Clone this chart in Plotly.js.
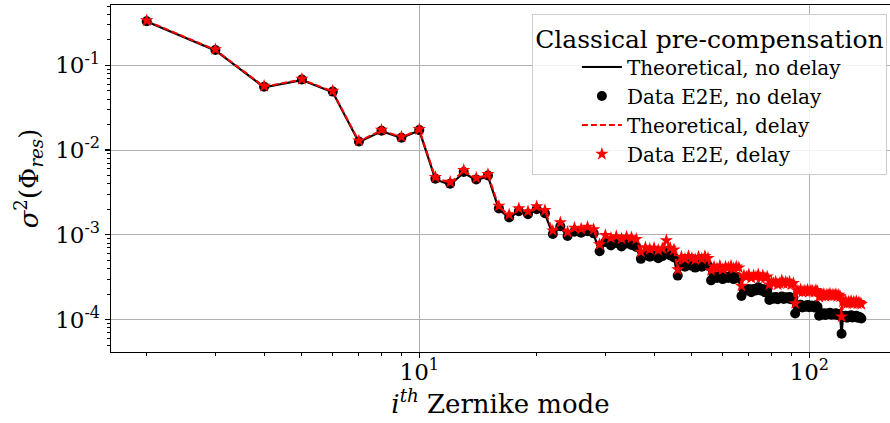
<!DOCTYPE html>
<html>
<head>
<meta charset="utf-8">
<script src="https://cdn.plot.ly/plotly-3.0.1.min.js"></script>
<style>html,body{margin:0;padding:0;background:#fff;}#chart{width:890px;height:423px;}</style>
</head>
<body>
<div id="chart"></div>
<script>
// Zernike mode indices
const modes = [2,3,4,5,6,7,8,9,10,11,12,13,14,15,16,17,18,19,20,21,22,23,24,25,26,27,28,29,30,
31,32,33,34,35,36,37,38,39,40,41,42,43,44,45,46,47,48,49,50,51,52,53,54,55,56,57,58,59,60,
61,62,63,64,65,66,67,68,69,70,71,72,73,74,75,76,77,78,79,80,81,82,83,84,85,86,87,88,89,90,
91,92,93,94,95,96,97,98,99,100,101,102,103,104,105,106,107,108,109,110,111,112,113,114,115,116,117,118,119,120,
121,122,123,124,125,126,127,128,129,130,131,132,133,134,135,136];

// Theoretical, no delay
const theoNoDelay = [0.330,0.150,
0.055,0.067,0.048,
0.0124,0.0167,0.0139,0.0170,
0.0045,0.0039,0.0054,0.0044,0.0049,
0.0020,0.00158,0.00188,0.00172,0.00198,0.00178,
0.00100,0.00124,0.00095,0.00107,0.00104,0.00109,0.00102,
0.00062,0.00080,0.00074,0.00078,0.00072,0.00077,0.00075,0.00071,
0.00051,0.00057,0.00054,0.00056,0.00052,0.00055,0.00060,0.00056,0.00053,
0.00032,0.00043,0.00041,0.00044,0.00042,0.00040,0.00043,0.00041,0.00044,0.00042,
0.00028,0.00031,0.00030,0.00032,0.00029,0.00031,0.00030,0.00032,0.00029,0.00031,0.00030,
0.00018,0.00022,0.00021,0.00022,0.00020,0.00022,0.00021,0.00023,0.00021,0.00022,0.00020,0.00021,
0.000165,0.000178,0.000172,0.000180,0.000170,0.000176,0.000182,0.000171,0.000178,0.000173,0.000180,0.000169,0.000175,
0.000115,0.000142,0.000138,0.000145,0.000136,0.000141,0.000139,0.000144,0.000137,0.000142,0.000140,0.000136,0.000143,0.000138,
0.000108,0.000114,0.000112,0.000116,0.000110,0.000115,0.000113,0.000117,0.000111,0.000114,0.000112,0.000116,0.000110,0.000113,0.000109,
0.000066,0.000106,0.000104,0.000108,0.000102,0.000107,0.000105,0.000109,0.000103,0.000106,0.000104,0.000108,0.000102,0.000105,0.000103,0.000100];

// Data E2E, no delay
const dataNoDelay = [0.332,0.152,
0.056,0.068,0.049,
0.0126,0.0169,0.0140,0.0172,
0.0046,0.0040,0.0055,0.0045,0.0050,
0.00205,0.00160,0.00190,0.00175,0.00200,0.00180,
0.00102,0.00126,0.00097,0.00109,0.00106,0.00110,0.00104,
0.00064,0.00082,0.00075,0.00080,0.00073,0.00079,0.00076,0.00072,
0.00052,0.00058,0.00055,0.00057,0.00053,0.00056,0.00061,0.00057,0.00054,
0.00033,0.00044,0.00042,0.00045,0.00043,0.00041,0.00044,0.00042,0.00045,0.00043,
0.00029,0.00032,0.00031,0.00033,0.00030,0.00032,0.00031,0.00033,0.00030,0.00032,0.00031,
0.00019,0.00023,0.00022,0.00023,0.00021,0.00023,0.00022,0.00024,0.00022,0.00023,0.00021,0.00022,
0.000170,0.000183,0.000176,0.000185,0.000174,0.000181,0.000187,0.000175,0.000183,0.000177,0.000185,0.000173,0.000180,
0.000118,0.000146,0.000141,0.000149,0.000139,0.000145,0.000142,0.000148,0.000140,0.000146,0.000143,0.000139,0.000147,0.000141,
0.000111,0.000117,0.000115,0.000119,0.000113,0.000118,0.000116,0.000120,0.000114,0.000117,0.000115,0.000119,0.000113,0.000116,0.000112,
0.000068,0.000109,0.000107,0.000111,0.000105,0.000110,0.000108,0.000112,0.000106,0.000109,0.000107,0.000111,0.000105,0.000108,0.000106,0.000103];

// Theoretical, delay
const theoDelay = [0.335,0.152,
0.056,0.068,0.049,
0.0127,0.0171,0.0142,0.0174,
0.0047,0.0041,0.0057,0.0046,0.0051,
0.00215,0.00170,0.00201,0.00186,0.00212,0.00192,
0.00110,0.00137,0.00106,0.00119,0.00116,0.00121,0.00114,
0.00075,0.00097,0.00090,0.00094,0.00088,0.00093,0.00091,0.00087,
0.00062,0.00069,0.00066,0.00068,0.00064,0.00067,0.00084,0.00068,0.00065,
0.00038,0.00053,0.00051,0.00054,0.00052,0.00050,0.00053,0.00051,0.00054,0.00052,
0.00037,0.00041,0.00039,0.00042,0.00038,0.00041,0.00040,0.00042,0.00039,0.00041,0.00040,
0.00024,0.00032,0.00031,0.00033,0.00030,0.00032,0.00031,0.00033,0.00030,0.00032,0.00030,0.00031,
0.00025,0.00027,0.00026,0.00027,0.00025,0.00026,0.00028,0.00026,0.00027,0.00026,0.00027,0.00025,0.00026,
0.000150,0.000215,0.000208,0.000220,0.000205,0.000213,0.000210,0.000218,0.000207,0.000214,0.000211,0.000205,0.000216,0.000209,
0.000180,0.000190,0.000186,0.000194,0.000183,0.000192,0.000188,0.000196,0.000185,0.000191,0.000187,0.000193,0.000184,0.000189,0.000182,
0.000105,0.000158,0.000154,0.000161,0.000150,0.000157,0.000153,0.000160,0.000151,0.000156,0.000153,0.000159,0.000150,0.000155,0.000152,0.000148];

// Data E2E, delay
const dataDelay = [0.338,0.154,
0.057,0.069,0.050,
0.0129,0.0173,0.0144,0.0176,
0.0048,0.0042,0.0058,0.0047,0.0052,
0.00219,0.00173,0.00205,0.00189,0.00216,0.00195,
0.00112,0.00140,0.00108,0.00121,0.00118,0.00124,0.00116,
0.00077,0.00099,0.00092,0.00096,0.00090,0.00095,0.00093,0.00089,
0.00063,0.00071,0.00068,0.00070,0.00066,0.00069,0.00086,0.00070,0.00067,
0.00039,0.00055,0.00052,0.00056,0.00053,0.00051,0.00055,0.00052,0.00056,0.00053,
0.00038,0.00042,0.00040,0.00043,0.00039,0.00042,0.00041,0.00043,0.00040,0.00042,0.00041,
0.00025,0.00033,0.00032,0.00034,0.00031,0.00033,0.00032,0.00034,0.00031,0.00033,0.00031,0.00032,
0.000258,0.000278,0.000268,0.000279,0.000258,0.000268,0.000288,0.000268,0.000278,0.000268,0.000279,0.000258,0.000268,
0.000155,0.000221,0.000214,0.000226,0.000211,0.000219,0.000216,0.000224,0.000213,0.000220,0.000217,0.000211,0.000222,0.000215,
0.000185,0.000196,0.000191,0.000200,0.000188,0.000198,0.000193,0.000202,0.000190,0.000197,0.000192,0.000199,0.000189,0.000195,0.000187,
0.000108,0.000163,0.000158,0.000166,0.000154,0.000162,0.000157,0.000165,0.000155,0.000161,0.000157,0.000164,0.000154,0.000160,0.000156,0.000152];

const seriesNames = ['Theoretical, no delay','Data E2E, no delay','Theoretical, delay','Data E2E, delay'];
const legendTitle = 'Classical pre-compensation';
const yTickVals = [1e-4,1e-3,1e-2,1e-1];
const yTickText = ['10<sup>-4</sup>','10<sup>-3</sup>','10<sup>-2</sup>','10<sup>-1</sup>'];
const xTickVals = [10,100];
const xTickText = ['10<sup>1</sup>','10<sup>2</sup>'];
const xMinor = [2,3,4,5,6,7,8,9,20,30,40,50,60,70,80,90,200];
const yMinor = [2e-5,3e-5,4e-5,5e-5,6e-5,7e-5,8e-5,9e-5,
2e-4,3e-4,4e-4,5e-4,6e-4,7e-4,8e-4,9e-4,
2e-3,3e-3,4e-3,5e-3,6e-3,7e-3,8e-3,9e-3,
2e-2,3e-2,4e-2,5e-2,6e-2,7e-2,8e-2,9e-2,
0.2,0.3,0.4,0.5,0.6,0.7,0.8,0.9];

const serif = 'DejaVu Serif, serif';

const traces = [
  {x: modes, y: theoNoDelay, name: seriesNames[0], type: 'scatter', mode: 'lines',
   line: {color: '#000000', width: 2.2}},
  {x: modes, y: dataNoDelay, name: seriesNames[1], type: 'scatter', mode: 'markers',
   marker: {color: '#000000', size: 10, symbol: 'circle'}},
  {x: modes, y: theoDelay, name: seriesNames[2], type: 'scatter', mode: 'lines',
   line: {color: '#ff0000', width: 2, dash: '6px,3px'}},
  {x: modes, y: dataDelay, name: seriesNames[3], type: 'scatter', mode: 'markers',
   marker: {color: '#ff0000', size: 10, symbol: 'star', line: {width: 0}}}
];

const layout = {
  width: 890, height: 423,
  margin: {l: 111, r: 0, t: 5, b: 71},
  paper_bgcolor: '#ffffff', plot_bgcolor: '#ffffff',
  font: {family: serif, color: '#000000', size: 20},
  showlegend: true,
  legend: {
    x: 0.996, xanchor: 'right', y: 0.974, yanchor: 'top',
    bgcolor: 'rgba(255,255,255,0.85)', bordercolor: '#cccccc', borderwidth: 1,
    font: {family: serif, size: 20, color: '#000000'},
    title: {text: legendTitle, side: 'top center', font: {family: serif, size: 25, color: '#000000'}},
    itemwidth: 40, tracegroupgap: 0, indentation: 44
  },
  xaxis: {
    type: 'log', range: [0.2095, 2.207],
    showline: true, linecolor: '#000000', linewidth: 1.3, mirror: true,
    ticks: 'outside', ticklen: 5, tickwidth: 1.2, tickcolor: '#000000',
    tickmode: 'array', tickvals: xTickVals, ticktext: xTickText,
    tickfont: {family: serif, size: 23, color: '#000000'},
    ticklabelstandoff: -6,
    showgrid: true, gridcolor: '#b0b0b0', gridwidth: 1,
    minor: {tickmode: 'array', tickvals: xMinor, ticks: 'outside', ticklen: 3, tickwidth: 1, tickcolor: '#000000', showgrid: false},
    zeroline: false,
    title: {text: '<i>i</i><sup><i>th</i></sup> Zernike mode', font: {family: serif, size: 26, color: '#000000'}, standoff: 10}
  },
  yaxis: {
    type: 'log', range: [-4.383, -0.288],
    showline: true, linecolor: '#000000', linewidth: 1.3, mirror: false,
    ticks: 'outside', ticklen: 5, tickwidth: 1.2, tickcolor: '#000000',
    tickmode: 'array', tickvals: yTickVals, ticktext: yTickText,
    tickfont: {family: serif, size: 23, color: '#000000'},
    showgrid: true, gridcolor: '#b0b0b0', gridwidth: 1,
    minor: {tickmode: 'array', tickvals: yMinor, ticks: 'outside', ticklen: 3, tickwidth: 1, tickcolor: '#000000', showgrid: false},
    zeroline: false,
    title: {text: '<i>σ</i><sup>2</sup>(Φ<sub><i>res</i></sub>)', font: {family: serif, size: 26, color: '#000000'}, standoff: 9}
  }
};

Plotly.newPlot('chart', traces, layout, {staticPlot: true, displayModeBar: false});
</script>
</body>
</html>
